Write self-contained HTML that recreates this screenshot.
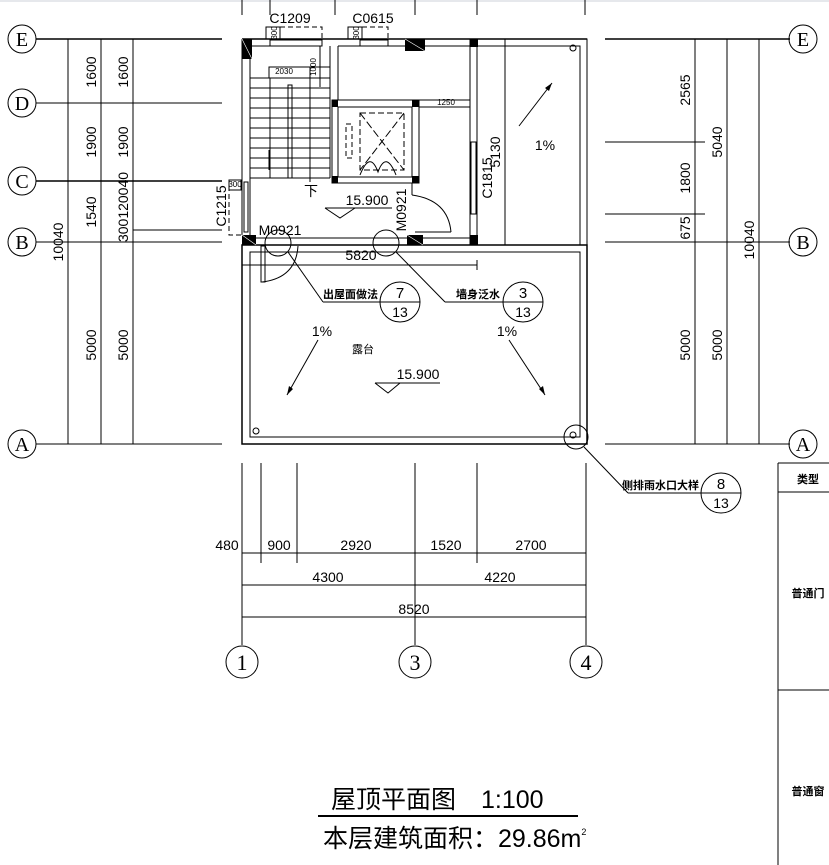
<!DOCTYPE html>
<html><head><meta charset="utf-8"><style>
html,body{margin:0;padding:0;background:#fff;}
svg{display:block;}
text{font-family:"Liberation Sans","Noto Sans CJK SC",sans-serif;fill:#000;}
</style></head><body>
<svg width="829" height="865" viewBox="0 0 829 865" xmlns="http://www.w3.org/2000/svg">
<rect width="829" height="865" fill="#fff"/>
<rect width="829" height="2" fill="#e6e8ec"/>
<g stroke="#000" stroke-width="1" fill="none">
<line x1="36" y1="39" x2="222" y2="39" stroke-width="1.5"/>
<line x1="36" y1="103" x2="222" y2="103"/>
<line x1="36" y1="181" x2="222" y2="181" stroke-width="1.5"/>
<line x1="36" y1="242" x2="222" y2="242"/>
<line x1="133" y1="230" x2="222" y2="230"/>
<line x1="36" y1="444" x2="222" y2="444"/>
<line x1="68" y1="39" x2="68" y2="444"/>
<line x1="101" y1="39" x2="101" y2="444"/>
<line x1="133" y1="39" x2="133" y2="444"/>
<line x1="605" y1="39" x2="790" y2="39" stroke-width="1.5"/>
<line x1="605" y1="142" x2="705" y2="142"/>
<line x1="605" y1="214" x2="705" y2="214"/>
<line x1="605" y1="242" x2="790" y2="242"/>
<line x1="605" y1="444" x2="790" y2="444"/>
<line x1="695" y1="39" x2="695" y2="444"/>
<line x1="727" y1="39" x2="727" y2="444"/>
<line x1="759" y1="39" x2="759" y2="444"/>
<line x1="242" y1="0" x2="242" y2="15"/>
<line x1="270" y1="0" x2="270" y2="15"/>
<line x1="335" y1="0" x2="335" y2="15"/>
<line x1="415" y1="0" x2="415" y2="15"/>
<line x1="477" y1="0" x2="477" y2="15"/>
<line x1="585" y1="0" x2="585" y2="15"/>
<circle cx="22" cy="39" r="14"/><circle cx="22" cy="103" r="14"/><circle cx="22" cy="181" r="14"/><circle cx="22" cy="242" r="14"/><circle cx="22" cy="444" r="14"/>
<circle cx="803" cy="39" r="14"/><circle cx="803" cy="242" r="14"/><circle cx="803" cy="444" r="14"/>
<circle cx="242" cy="662" r="16"/><circle cx="415" cy="662" r="16"/><circle cx="586" cy="662" r="16"/>
<line x1="242" y1="39" x2="587" y2="39" stroke-width="1.5"/>
<line x1="250" y1="46" x2="320" y2="46"/>
<line x1="338" y1="46" x2="470" y2="46"/>
<line x1="242" y1="39" x2="242" y2="235"/>
<line x1="250" y1="46" x2="250" y2="235"/>
<rect x="242" y="245" width="345" height="199" stroke-width="1.5"/>
<rect x="250" y="252" width="330" height="185"/>
<rect x="477" y="39" width="110" height="206"/>
<polyline points="477,46 580,46 580,245"/>
<line x1="250" y1="238" x2="470" y2="238"/>
<line x1="250" y1="245" x2="470" y2="245"/>
<line x1="470" y1="39" x2="470" y2="245"/>
<line x1="477" y1="39" x2="477" y2="245"/>
<rect x="471" y="142" width="5" height="72"/>
<rect x="244" y="182" width="4" height="50"/>
<rect x="229" y="180" width="12" height="10"/>
<polyline points="241,190 229,190 229,235 241,235" stroke-dasharray="5,3"/>
<rect x="266" y="27" width="14" height="12"/>
<polyline points="280,27 322,27 322,39" stroke-dasharray="5,3"/>
<rect x="270" y="40" width="52" height="6"/>
<rect x="348" y="27" width="14" height="12"/>
<polyline points="362,27 388,27 388,39" stroke-dasharray="5,3"/>
<rect x="360" y="40" width="28" height="6"/>
<line x1="320" y1="46" x2="320" y2="87"/>
<line x1="330" y1="46" x2="330" y2="178"/>
<line x1="338" y1="46" x2="338" y2="100"/>
<rect x="269" y="67" width="61" height="11"/>
<line x1="310" y1="67" x2="310" y2="182"/>
<g>
<line x1="250" y1="78" x2="330" y2="78"/><line x1="250" y1="88" x2="330" y2="88"/><line x1="250" y1="98" x2="330" y2="98"/><line x1="250" y1="108" x2="330" y2="108"/><line x1="250" y1="118" x2="330" y2="118"/><line x1="250" y1="128" x2="330" y2="128"/><line x1="250" y1="138" x2="330" y2="138"/><line x1="250" y1="148" x2="330" y2="148"/><line x1="250" y1="158" x2="330" y2="158"/><line x1="250" y1="168" x2="330" y2="168"/><line x1="250" y1="178" x2="330" y2="178"/>
</g>
<line x1="270" y1="78" x2="270" y2="178"/>
<rect x="288" y="85" width="4" height="93"/>
<line x1="269" y1="150" x2="269" y2="170"/>
<rect x="332" y="100" width="87" height="83"/>
<rect x="338" y="107" width="74" height="70"/>
<line x1="419" y1="100" x2="470" y2="100"/>
<rect x="360" y="113" width="44" height="57" stroke-dasharray="6,3"/>
<line x1="360" y1="113" x2="404" y2="170" stroke-dasharray="8,3"/>
<line x1="404" y1="113" x2="360" y2="170" stroke-dasharray="8,3"/>
<rect x="346" y="124" width="6" height="34" stroke-dasharray="5,3"/>
<path d="M360,175 Q370,150 378,172 Q386,150 396,175"/>
<path d="M412,195 Q448,200 451,232"/>
<line x1="412" y1="183" x2="412" y2="195"/>
<line x1="415" y1="232" x2="451" y2="232"/>
<path d="M262,282 Q296,278 298,246"/>
<rect x="261" y="246" width="4" height="36"/>
<line x1="242" y1="265" x2="477" y2="265"/>
<line x1="477" y1="260" x2="477" y2="270"/>
<line x1="505" y1="39" x2="505" y2="245"/>
<line x1="419" y1="107" x2="470" y2="107"/>
<polyline points="325,208 340,218 355,208"/>
<line x1="325" y1="208" x2="392" y2="208"/>
<polyline points="375,383 388,393 400,383"/>
<line x1="375" y1="383" x2="440" y2="383"/>
<circle cx="278" cy="243" r="13"/>
<circle cx="386" cy="243" r="13"/>
<line x1="288" y1="252" x2="323" y2="302"/>
<line x1="323" y1="302" x2="380" y2="302"/>
<line x1="396" y1="252" x2="445" y2="302"/>
<line x1="445" y1="302" x2="503" y2="302"/>
<circle cx="400" cy="302" r="20"/><line x1="380" y1="302" x2="420" y2="302"/>
<circle cx="523" cy="302" r="20"/><line x1="503" y1="302" x2="543" y2="302"/>
<circle cx="576" cy="437" r="12"/>
<line x1="584" y1="447" x2="628" y2="493"/>
<line x1="628" y1="493" x2="702" y2="493"/>
<circle cx="721" cy="493" r="20"/><line x1="701" y1="493" x2="741" y2="493"/>
<circle cx="256" cy="431" r="3"/><circle cx="573" cy="435" r="3"/><circle cx="573" cy="48" r="3"/>
<line x1="519" y1="126" x2="552" y2="83"/>
<line x1="318" y1="340" x2="287" y2="395"/>
<line x1="509" y1="340" x2="545" y2="395"/>
<line x1="242" y1="463" x2="242" y2="645"/>
<line x1="261" y1="463" x2="261" y2="563"/>
<line x1="297" y1="463" x2="297" y2="563"/>
<line x1="415" y1="463" x2="415" y2="645"/>
<line x1="477" y1="463" x2="477" y2="563"/>
<line x1="586" y1="463" x2="586" y2="645"/>
<line x1="242" y1="553" x2="586" y2="553"/>
<line x1="242" y1="585" x2="586" y2="585"/>
<line x1="242" y1="617" x2="586" y2="617"/>
<line x1="778" y1="463" x2="778" y2="865"/>
<line x1="778" y1="463" x2="829" y2="463"/>
<line x1="778" y1="492" x2="829" y2="492"/>
<line x1="778" y1="690" x2="829" y2="690"/>
<line x1="318" y1="816" x2="578" y2="816" stroke-width="2"/>
</g>
<g fill="#000">
<rect x="242" y="39" width="10" height="20"/>
<rect x="405" y="39" width="20" height="12"/>
<rect x="470" y="39" width="8" height="8"/>
<rect x="332" y="100" width="6" height="7"/><rect x="412" y="100" width="7" height="7"/>
<rect x="332" y="176" width="6" height="7"/><rect x="412" y="176" width="7" height="7"/>
<rect x="242" y="235" width="14" height="10"/>
<rect x="407" y="235" width="16" height="10"/>
<rect x="470" y="235" width="8" height="10"/>
<polygon points="552,83 545,88 549,91"/>
<polygon points="287,395 289,386 293,389"/>
<polygon points="545,395 539,389 543,386"/>
</g>
<g stroke="#fff" stroke-width="0.6">
<line x1="242" y1="39" x2="252" y2="59"/>
<line x1="405" y1="39" x2="425" y2="51"/>
<line x1="242" y1="235" x2="256" y2="245"/>
<line x1="407" y1="235" x2="423" y2="245"/>
</g>
<g font-size="20" text-anchor="middle" style="font-family:'Liberation Serif',serif">
<text x="22" y="46" style="font-family:'Liberation Serif',serif">E</text>
<text x="22" y="110" style="font-family:'Liberation Serif',serif">D</text>
<text x="22" y="188" style="font-family:'Liberation Serif',serif">C</text>
<text x="22" y="249" style="font-family:'Liberation Serif',serif">B</text>
<text x="22" y="451" style="font-family:'Liberation Serif',serif">A</text>
<text x="803" y="46" style="font-family:'Liberation Serif',serif">E</text>
<text x="803" y="249" style="font-family:'Liberation Serif',serif">B</text>
<text x="803" y="451" style="font-family:'Liberation Serif',serif">A</text>
<text x="242" y="670" style="font-family:'Liberation Serif',serif" font-size="22">1</text>
<text x="415" y="670" style="font-family:'Liberation Serif',serif" font-size="22">3</text>
<text x="586" y="670" style="font-family:'Liberation Serif',serif" font-size="22">4</text>
</g>
<g font-size="14" text-anchor="middle">
<text transform="translate(96,72) rotate(-90)">1600</text>
<text transform="translate(128,72) rotate(-90)">1600</text>
<text transform="translate(96,142) rotate(-90)">1900</text>
<text transform="translate(128,142) rotate(-90)">1900</text>
<text transform="translate(96,212) rotate(-90)">1540</text>
<text transform="translate(128,207) rotate(-90)">300120040</text>
<text transform="translate(63,242) rotate(-90)">10040</text>
<text transform="translate(96,345) rotate(-90)">5000</text>
<text transform="translate(128,345) rotate(-90)">5000</text>
<text transform="translate(226,206) rotate(-90)">C1215</text>
<text transform="translate(690,90) rotate(-90)">2565</text>
<text transform="translate(690,178) rotate(-90)">1800</text>
<text transform="translate(690,228) rotate(-90)">675</text>
<text transform="translate(722,142) rotate(-90)">5040</text>
<text transform="translate(754,240) rotate(-90)">10040</text>
<text transform="translate(690,345) rotate(-90)">5000</text>
<text transform="translate(722,345) rotate(-90)">5000</text>
<text transform="translate(500,152) rotate(-90)">5130</text>
<text transform="translate(492,178) rotate(-90)">C1815</text>
<text transform="translate(406,210) rotate(-90)">M0921</text>
<text transform="translate(316,67) rotate(-90)" font-size="8">1000</text>
<text transform="translate(277,33) rotate(-90)" font-size="8">300</text>
<text transform="translate(359,33) rotate(-90)" font-size="8">300</text>
</g>
<g font-size="14" text-anchor="middle">
<text x="290" y="23">C1209</text>
<text x="373" y="23">C0615</text>
<text x="280" y="235">M0921</text>
<text x="361" y="260">5820</text>
<text x="367" y="205">15.900</text>
<text x="418" y="379">15.900</text>
<text x="545" y="150">1%</text>
<text x="322" y="336">1%</text>
<text x="507" y="336">1%</text>
<text x="311" y="196">下</text>
<text x="227" y="550">480</text>
<text x="279" y="550">900</text>
<text x="356" y="550">2920</text>
<text x="446" y="550">1520</text>
<text x="531" y="550">2700</text>
<text x="328" y="582">4300</text>
<text x="500" y="582">4220</text>
<text x="414" y="614">8520</text>
<text x="400" y="298" font-size="15">7</text>
<text x="400" y="317" font-size="14">13</text>
<text x="523" y="298" font-size="15">3</text>
<text x="523" y="317" font-size="14">13</text>
<text x="721" y="489" font-size="15">8</text>
<text x="721" y="508" font-size="14">13</text>
<text x="284" y="74" font-size="8">2030</text>
<text x="446" y="105" font-size="8">1250</text>
<text x="235" y="187" font-size="8">300</text>
<text x="363" y="353" font-size="11">露台</text>
</g>
<g font-size="11" text-anchor="end" font-weight="bold">
<text x="378" y="298">出屋面做法</text>
<text x="500" y="298">墙身泛水</text>
<text x="699" y="489">侧排雨水口大样</text>
</g>
<g font-size="11" text-anchor="middle" font-weight="bold">
<text x="808" y="483">类型</text>
<text x="808" y="597">普通门</text>
<text x="808" y="795">普通窗</text>
</g>
<text x="331" y="808" font-size="25">屋顶平面图　1:100</text>
<text x="323" y="847" font-size="25">本层建筑面积：29.86m<tspan font-size="9" dy="-12">2</tspan></text>
</svg>
</body></html>
